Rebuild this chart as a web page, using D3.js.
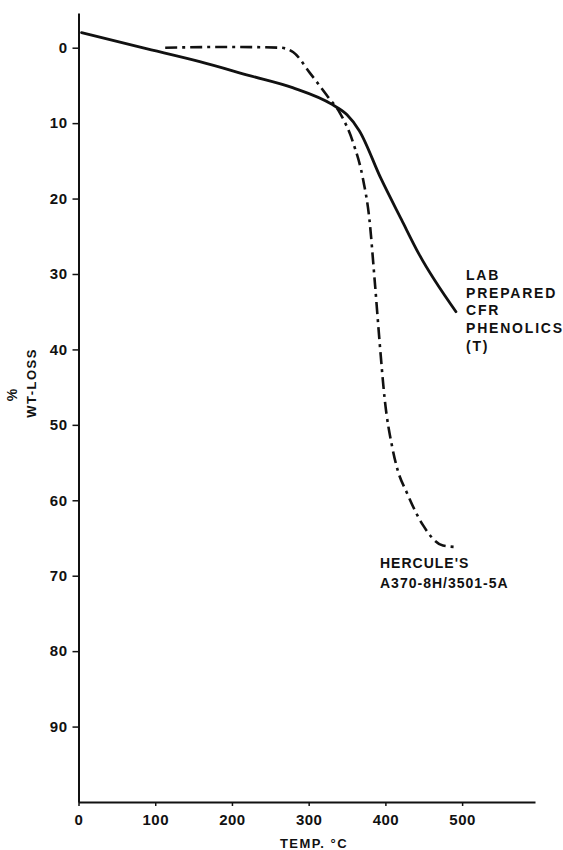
<!DOCTYPE html>
<html>
<head>
<meta charset="utf-8">
<script src="https://cdn.jsdelivr.net/npm/d3@7"></script>
<style>
  html, body { margin: 0; padding: 0; background: #fff; }
  text { font-family: "Liberation Sans", Arial, Helvetica, sans-serif; font-weight: bold; fill: #111; }
</style>
</head>
<body>
<svg id="chart" width="563" height="850"></svg>
<script>
// ---- data ----
const xTicks = [0, 100, 200, 300, 400, 500];
const yTicks = [0, 10, 20, 30, 40, 50, 60, 70, 80, 90];

// LAB PREPARED CFR PHENOLICS (T) — solid
const labTemp = [4, 83, 158, 223, 279, 331, 350, 366, 394, 421, 444, 492];
const labLoss = [-2.0, 0, 1.85, 3.7, 5.3, 7.55, 8.9, 11.0, 17.3, 22.8, 27.4, 35];

// HERCULE'S A370-8H/3501-5A — dash-dot
const herTemp = [113, 197, 263, 280, 302, 325, 341, 358, 371, 379, 386, 393, 399, 409, 416, 428, 449, 475, 493];
const herLoss = [0, -0.1, 0, 0.6, 3.4, 6.5, 8.7, 12.6, 17.5, 22.6, 30.8, 39.7, 46.5, 53, 56, 59, 63.3, 66, 66.2];

const labLabel = ["LAB", "PREPARED", "CFR", "PHENOLICS", "(T)"];
const herLabel = ["HERCULE'S", "A370-8H/3501-5A"];

// ---- layout ----
const svg = d3.select("#chart");
const x = d3.scaleLinear().domain([0, 595]).range([78.5, 535]);
const y = d3.scaleLinear().domain([-4.6, 100]).range([13, 802]);

// y axis
const yAxis = svg.append("g")
  .attr("transform", `translate(${x(0)},0)`)
  .call(d3.axisLeft(y).tickValues(yTicks).tickSize(6).tickPadding(5).tickSizeOuter(0));
yAxis.select(".domain").attr("stroke", "#111").attr("stroke-width", 2);
yAxis.selectAll(".tick line").attr("stroke", "#111").attr("stroke-width", 1.5);
yAxis.selectAll(".tick text").style("font-size", "15px").style("letter-spacing", "0.5px").attr("fill", "#111");

// x axis
const xAxis = svg.append("g")
  .attr("transform", `translate(0,${y(100)})`)
  .call(d3.axisBottom(x).tickValues(xTicks).tickSize(4).tickPadding(8.3).tickSizeOuter(0));
xAxis.select(".domain").attr("stroke", "#111").attr("stroke-width", 2.2);
xAxis.selectAll(".tick line").attr("stroke", "#111").attr("stroke-width", 1.5);
xAxis.selectAll(".tick text").style("font-size", "15px").style("letter-spacing", "0.5px").attr("fill", "#111");

// axis titles
svg.append("text")
  .attr("x", 314).attr("y", 848)
  .attr("text-anchor", "middle")
  .style("font-size", "13px").style("letter-spacing", "1.5px")
  .text("TEMP. °C");

svg.append("text")
  .attr("transform", "translate(36,383) rotate(-90)")
  .attr("text-anchor", "middle")
  .style("font-size", "13px").style("letter-spacing", "1.5px")
  .text("WT-LOSS");
svg.append("text")
  .attr("transform", "translate(17,395) rotate(-90)")
  .attr("text-anchor", "middle")
  .style("font-size", "14px")
  .text("%");

// curves
const line = d3.line()
  .x(d => x(d[0])).y(d => y(d[1]))
  .curve(d3.curveMonotoneX);

svg.append("path")
  .datum(labTemp.map((t, i) => [t, labLoss[i]]))
  .attr("d", line)
  .attr("fill", "none").attr("stroke", "#111").attr("stroke-width", 2.8)
  .attr("stroke-linecap", "round");

svg.append("path")
  .datum(herTemp.map((t, i) => [t, herLoss[i]]))
  .attr("d", line)
  .attr("fill", "none").attr("stroke", "#111").attr("stroke-width", 2.6)
  .attr("stroke-dasharray", "12,5,3,5");

// curve labels
const lab = svg.append("text")
  .attr("x", 466).attr("y", 280)
  .style("font-size", "14px").style("letter-spacing", "1.8px");
lab.selectAll("tspan").data(labLabel).join("tspan")
  .attr("x", 466).attr("dy", (d, i) => i === 0 ? 0 : 17.7)
  .text(d => d);

const her = svg.append("text")
  .attr("x", 380).attr("y", 568)
  .style("font-size", "14px").style("letter-spacing", "1px");
her.selectAll("tspan").data(herLabel).join("tspan")
  .attr("x", 380).attr("dy", (d, i) => i === 0 ? 0 : 20)
  .text(d => d);
</script>
</body>
</html>
